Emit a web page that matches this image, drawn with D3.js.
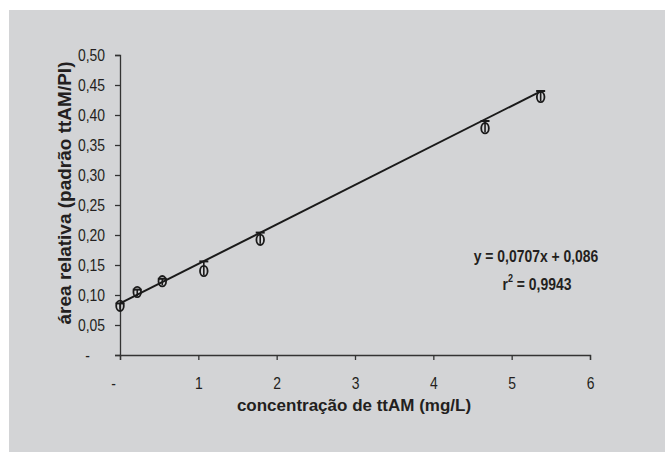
<!DOCTYPE html>
<html>
<head>
<meta charset="utf-8">
<script src="https://cdn.jsdelivr.net/npm/d3@7"></script>
<style>
  body { margin: 0; background: #fff; }
  text { font-family: "Liberation Sans", Arial, sans-serif; fill: #231f20; }
</style>
</head>
<body>
<svg width="665" height="452"></svg>
<script>
var svg = d3.select("svg"),
    width = +svg.attr("width"),
    height = +svg.attr("height");

// points as read against the printed axes
var conc = [0, 0.22, 0.54, 1.07, 1.79, 4.66, 5.37];
var area = [0.082, 0.105, 0.123, 0.140, 0.192, 0.378, 0.430];
var errUp = [0.004, 0.004, 0.004, 0.016, 0.012, 0.012, 0.010];

// fitted line end points
var lineX = [0, 5.37];
var lineY = [0.086, 0.4395];

var xTicks = [0, 1, 2, 3, 4, 5, 6];
var yTicks = [0, 0.05, 0.10, 0.15, 0.20, 0.25, 0.30, 0.35, 0.40, 0.45, 0.50];

var narrow = 0.82;

var x = d3.scaleLinear().domain([0, 6]).range([120, 590]);
var y = d3.scaleLinear().domain([0, 0.5]).range([355, 55]);

svg.append("rect")
    .attr("x", 9).attr("y", 10)
    .attr("width", width - 9).attr("height", height - 10)
    .attr("fill", "#d3d4d6");

function fmt(v) {
  return v === 0 ? "-" : d3.format(".2f")(v).replace(".", ",");
}

var yAxis = svg.append("g")
    .attr("transform", "translate(" + x(0) + ",0)")
    .call(d3.axisLeft(y).tickValues(yTicks).tickSize(5).tickPadding(10).tickFormat(fmt));

var xAxis = svg.append("g")
    .attr("transform", "translate(0," + y(0) + ")")
    .call(d3.axisBottom(x).tickValues(xTicks).tickSize(5).tickPadding(17)
      .tickFormat(function(d) { return d === 0 ? "-" : d; }));

yAxis.selectAll(".tick").filter(function(d) { return d === 0; })
    .select("text").attr("x", -30);
xAxis.selectAll(".tick").filter(function(d) { return d === 0; })
    .select("text").attr("x", -7);

[xAxis, yAxis].forEach(function(g) {
  g.select(".domain").attr("stroke", "#333").attr("stroke-width", 1.3);
  g.selectAll(".tick line").attr("stroke", "#333").attr("stroke-width", 1.3);
  g.selectAll(".tick text")
    .attr("fill", "#231f20")
    .style("font-size", "17px")
    .style("font-family", '"Liberation Sans", Arial, sans-serif')
    .each(function() {
      var t = d3.select(this);
      t.attr("x", (+t.attr("x") || 0) / narrow)
       .attr("transform", "scale(" + narrow + ",1)");
    });
});

// regression line
svg.append("line")
    .attr("x1", x(lineX[0])).attr("y1", y(lineY[0]))
    .attr("x2", x(lineX[1])).attr("y2", y(lineY[1]))
    .attr("stroke", "#1a1a1a")
    .attr("stroke-width", 2);

var pts = svg.append("g").selectAll("g")
    .data(conc.map(function(c, i) { return { c: c, a: area[i], e: errUp[i] }; }))
    .enter().append("g");

pts.append("line")
    .attr("x1", function(d) { return x(d.c); })
    .attr("x2", function(d) { return x(d.c); })
    .attr("y1", function(d) { return y(d.a) + 4; })
    .attr("y2", function(d) { return y(d.a + d.e); })
    .attr("stroke", "#1a1a1a").attr("stroke-width", 1.6);

pts.append("line")
    .attr("x1", function(d) { return x(d.c) - 4.5; })
    .attr("x2", function(d) { return x(d.c) + 4.5; })
    .attr("y1", function(d) { return y(d.a + d.e); })
    .attr("y2", function(d) { return y(d.a + d.e); })
    .attr("stroke", "#1a1a1a").attr("stroke-width", 2);

pts.append("ellipse")
    .attr("cx", function(d) { return x(d.c); })
    .attr("cy", function(d) { return y(d.a); })
    .attr("rx", 3.8).attr("ry", 5.2)
    .attr("fill", "none")
    .attr("stroke", "#1a1a1a")
    .attr("stroke-width", 1.8);

// axis titles
svg.append("text")
    .attr("transform", "translate(71,193) rotate(-90)")
    .attr("text-anchor", "middle")
    .style("font-size", "19px").style("font-weight", "bold")
    .text("área relativa (padrão ttAM/PI)");

svg.append("text")
    .attr("x", 354).attr("y", 411)
    .attr("text-anchor", "middle")
    .style("font-size", "17px").style("font-weight", "bold")
    .text("concentração de ttAM (mg/L)");

// equation
svg.append("text")
    .attr("transform", "translate(536,262) scale(" + narrow + ",1)")
    .attr("text-anchor", "middle")
    .style("font-size", "17px").style("font-weight", "bold")
    .text("y = 0,0707x + 0,086");

var r2 = svg.append("text")
    .attr("transform", "translate(537,290) scale(" + narrow + ",1)")
    .attr("text-anchor", "middle")
    .style("font-size", "17px").style("font-weight", "bold");
r2.append("tspan").text("r");
r2.append("tspan").attr("dy", -8).style("font-size", "11px").text("2");
r2.append("tspan").attr("dy", 8).text(" = 0,9943");
</script>
</body>
</html>
